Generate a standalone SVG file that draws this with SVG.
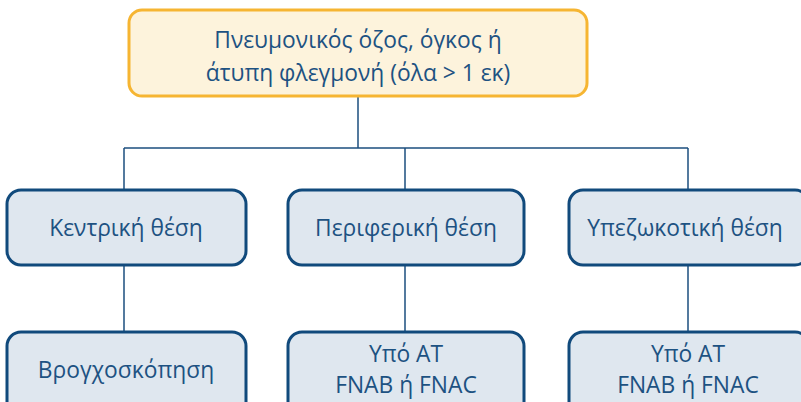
<svg xmlns="http://www.w3.org/2000/svg" width="801" height="402" viewBox="0 0 801 402">
<style>
.t{font-family:"Open Sans","Noto Sans",sans-serif;font-size:22.8px;fill:#1d5282;text-anchor:middle}
.b{fill:#dfe7ef;stroke:#114a7c;stroke-width:3}
.c{stroke:#1d4f7f;stroke-width:1.5;fill:none}
</style>
<rect width="801" height="402" fill="#ffffff"/>
<g id="connectors">
<path class="c" d="M358 96V148M124 148H688M124 148V190M405 148V190M688 148V190M124 265V332M405 265V332M688 265V332"/>
</g>
<g id="root">
<rect x="129" y="10" width="458" height="86" rx="13" fill="#fdf3dc" stroke="#f6b532" stroke-width="3"/>
<text class="t" x="358" y="48">Πνευμονικός όζος, όγκος ή</text>
<text class="t" x="358" y="81">άτυπη φλεγμονή (όλα &gt; 1 εκ)</text>
</g>
<g id="central">
<rect class="b" x="7" y="190" width="239" height="75" rx="14"/>
<text class="t" x="126" y="236">Κεντρική θέση</text>
</g>
<g id="peripheral">
<rect class="b" x="288" y="190" width="236" height="75" rx="14"/>
<text class="t" x="406" y="236">Περιφερική θέση</text>
</g>
<g id="pleural">
<rect class="b" x="569" y="190" width="240" height="75" rx="14"/>
<text class="t" x="685" y="236">Υπεζωκοτική θέση</text>
</g>
<g id="bronch">
<rect class="b" x="7" y="332" width="239" height="85" rx="14"/>
<text class="t" x="126" y="378">Βρογχοσκόπηση</text>
</g>
<g id="ct1">
<rect class="b" x="288" y="332" width="236" height="85" rx="14"/>
<text class="t" x="406" y="362">Υπό ΑΤ</text>
<text class="t" x="406" y="393">FNAB ή FNAC</text>
</g>
<g id="ct2">
<rect class="b" x="569" y="332" width="240" height="85" rx="14"/>
<text class="t" x="688" y="362">Υπό ΑΤ</text>
<text class="t" x="688" y="393">FNAB ή FNAC</text>
</g>
</svg>
